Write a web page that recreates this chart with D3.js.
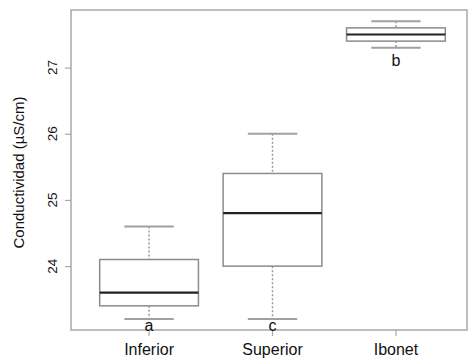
<!DOCTYPE html>
<html>
<head>
<meta charset="utf-8">
<script src="https://cdn.jsdelivr.net/npm/d3@7"></script>
<style>
  body { margin: 0; background: #fff; }
  text { font-family: "Liberation Sans", Arial, sans-serif; fill: #111; }
</style>
</head>
<body>
<div class="chart"></div>
<script>
// group names and letters from the figure
const categories = ["Inferior", "Superior", "Ibonet"];
const letters = ["a", "c", "b"];
// five-number summaries
const whiskerLow = [23.2, 23.2, 27.3];
const q1 = [23.4, 24.0, 27.4];
const median = [23.6, 24.8, 27.5];
const q3 = [24.1, 25.4, 27.6];
const whiskerHigh = [24.6, 26.0, 27.7];
const yTicks = [24, 25, 26, 27];

const draw = () => {
  var margin = { top: 10, right: 3, bottom: 29, left: 71 },
    width = 471 - margin.left - margin.right,
    height = 359 - margin.top - margin.bottom;

  const svg = d3
    .select(".chart")
    .append("svg")
    .attr("width", 471)
    .attr("height", 359)
    .append("g")
    .attr("transform", "translate(" + margin.left + "," + margin.top + ")");

  var y = d3.scaleLinear().domain([23.035, 27.87]).range([height, 0]);
  var x = d3
    .scaleBand()
    .domain(categories)
    .range([4, 399])
    .paddingInner(0.2)
    .paddingOuter(0.2);

  var data = categories.map(function (c, i) {
    return {
      key: c,
      lo: whiskerLow[i],
      q1: q1[i],
      med: median[i],
      q3: q3[i],
      hi: whiskerHigh[i],
      letter: letters[i],
    };
  });

  // frame
  svg
    .append("rect")
    .attr("x", 0)
    .attr("y", 0)
    .attr("width", width - 1)
    .attr("height", height)
    .attr("fill", "none")
    .attr("stroke", "#a8a8a8")
    .attr("stroke-width", 1.5);

  // y axis (ticks only, labels rotated like base R)
  var yAxis = svg
    .append("g")
    .call(d3.axisLeft(y).tickValues(yTicks).tickSize(6).tickFormat(""));
  yAxis.select(".domain").remove();
  yAxis.selectAll("line").attr("stroke", "#a8a8a8").attr("stroke-width", 1.2);

  svg
    .selectAll(".ylab")
    .data(yTicks)
    .enter()
    .append("text")
    .attr("transform", (d) => "translate(-14," + y(d) + ") rotate(-90)")
    .attr("text-anchor", "middle")
    .style("font-size", "13.5px")
    .text((d) => d);

  // x axis
  var xAxis = svg
    .append("g")
    .attr("transform", "translate(0," + height + ")")
    .call(d3.axisBottom(x).tickSize(6));
  xAxis.select(".domain").remove();
  xAxis.selectAll("line").attr("stroke", "#a8a8a8").attr("stroke-width", 1.2);
  xAxis
    .selectAll("text")
    .attr("y", 25)
    .attr("dy", 0)
    .style("font-size", "16px")
    .style("fill", "#111");

  svg
    .append("text")
    .attr("transform", "rotate(-90)")
    .attr("x", -162.5)
    .attr("y", -47)
    .attr("text-anchor", "middle")
    .style("font-size", "15px")
    .text("Conductividad (\u00b5S/cm)");

  var g = svg
    .selectAll(".box")
    .data(data)
    .enter()
    .append("g")
    .attr("transform", function (d) {
      return "translate(" + (x(d.key) + x.bandwidth() / 2) + ",0)";
    });

  var bw = x.bandwidth();

  // dotted whiskers
  g.append("line")
    .attr("y1", (d) => y(d.hi))
    .attr("y2", (d) => y(d.q3))
    .attr("stroke", "#999")
    .attr("stroke-width", 1.5)
    .attr("stroke-dasharray", "2,2");
  g.append("line")
    .attr("y1", (d) => y(d.q1))
    .attr("y2", (d) => y(d.lo))
    .attr("stroke", "#999")
    .attr("stroke-width", 1.5)
    .attr("stroke-dasharray", "2,2");

  // caps
  g.selectAll(".cap")
    .data((d) => [d.lo, d.hi])
    .enter()
    .append("line")
    .attr("x1", -bw / 4)
    .attr("x2", bw / 4)
    .attr("y1", (v) => y(v))
    .attr("y2", (v) => y(v))
    .attr("stroke", "#a0a0a0")
    .attr("stroke-width", 2);

  // box
  g.append("rect")
    .attr("x", -bw / 2)
    .attr("width", bw)
    .attr("y", (d) => y(d.q3))
    .attr("height", (d) => y(d.q1) - y(d.q3))
    .attr("fill", "#fff")
    .attr("stroke", "#8c8c8c")
    .attr("stroke-width", 1.5);

  // median
  g.append("line")
    .attr("x1", -bw / 2)
    .attr("x2", bw / 2)
    .attr("y1", (d) => y(d.med))
    .attr("y2", (d) => y(d.med))
    .attr("stroke", "#222")
    .attr("stroke-width", 2.2);

  // group letters
  g.append("text")
    .attr("text-anchor", "middle")
    .attr("y", (d) => (d.letter === "b" ? y(d.lo) + 18.5 : y(d.lo) + 12))
    .style("font-size", "16px")
    .text((d) => d.letter);
};

draw();
</script>
</body>
</html>
